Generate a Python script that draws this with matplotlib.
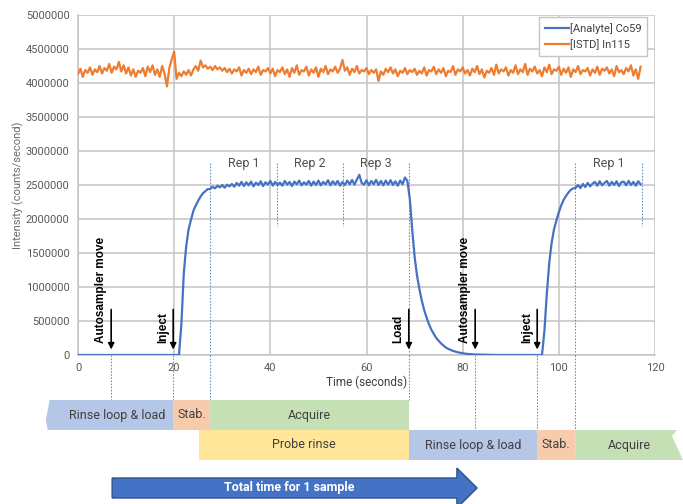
import matplotlib.pyplot as plt
import matplotlib.patches as mpatches
import numpy as np
from matplotlib.ticker import FuncFormatter

plt.rcParams["font.family"] = ["Roboto", "DejaVu Sans"]

# [ISTD] In115, one reading every 0.5 s from t = 0 (counts/s, thousands)
istd_kcps = [
    4130, 4210, 4090, 4190, 4150, 4230, 4120, 4200, 4160, 4250, 4140, 4220, 4180, 4280, 4150, 4240, 4200, 4310, 4170, 4260,
    4140, 4230, 4110, 4200, 4090, 4180, 4150, 4220, 4100, 4240, 4160, 4260, 4120, 4200, 4090, 4250, 4140, 3950, 4220, 4350,
    4460, 4060, 4150, 4100, 4170, 4120, 4190, 4110, 4200, 4250, 4180, 4330, 4230, 4260, 4210, 4240, 4190, 4250, 4200, 4230,
    4180, 4220, 4160, 4210, 4140, 4200, 4170, 4230, 4110, 4190, 4150, 4210, 4130, 4200, 4160, 4240, 4120, 4190, 4170, 4220,
    4140, 4210, 4100, 4190, 4160, 4230, 4130, 4200, 4090, 4220, 4150, 4260, 4120, 4190, 4170, 4240, 4110, 4200, 4150, 4230,
    4090, 4210, 4160, 4250, 4130, 4200, 4170, 4240, 4150, 4210, 4340, 4180, 4230, 4120, 4210, 4160, 4250, 4140, 4190, 4170,
    4220, 4130, 4190, 4150, 4200, 4030, 4170, 4120, 4210, 4160, 4230, 4140, 4200, 4100, 4180, 4150, 4220, 4130, 4190, 4160,
    4210, 4120, 4180, 4140, 4230, 4110, 4190, 4170, 4240, 4130, 4200, 4150, 4220, 4100, 4180, 4160, 4250, 4120, 4200, 4170,
    4230, 4140, 4190, 4110, 4210, 4160, 4250, 4130, 4200, 4080, 4180, 4150, 4220, 4120, 4270, 4140, 4200, 4170, 4230, 4110,
    4190, 4150, 4260, 4130, 4200, 4160, 4280, 4120, 4210, 4170, 4240, 4140, 4190, 4100, 4230, 4160, 4270, 4130, 4200, 4180,
    4240, 4120, 4210, 4150, 4230, 4090, 4200, 4160, 4250, 4130, 4190, 4170, 4220, 4110, 4200, 4150, 4240, 4120, 4210, 4180,
    4230, 4140, 4200, 4100, 4250, 4160, 4190, 4130, 4220, 4170, 4260, 4110, 4200, 4060, 4240,
]

# [Analyte] Co59: baseline is 0 outside the two sample runs; each run read every 0.5 s
run1_start = 21.0
run1_kcps = [
    0, 450, 1200, 1600, 1850, 1990, 2120, 2200, 2270, 2330, 2380, 2410, 2440,
    2440, 2475, 2450, 2490, 2465, 2500, 2460, 2505, 2480, 2515,
    2475, 2530, 2490, 2545, 2485, 2540, 2495, 2550, 2480, 2535,
    2500, 2555, 2485, 2540, 2505, 2560, 2490, 2545, 2500, 2535,
    2490, 2560, 2505, 2545, 2485, 2550, 2510, 2565, 2495, 2540,
    2505, 2560, 2490, 2550, 2500, 2565, 2495, 2545, 2510, 2570,
    2495, 2555, 2505, 2560, 2490, 2545, 2500, 2565, 2510, 2575,
    2505, 2580, 2650, 2530, 2505, 2570, 2495, 2560, 2510, 2575,
    2500, 2560, 2495, 2565, 2505, 2570, 2500, 2555, 2490, 2565,
    2510, 2610, 2560,
    2300, 1850, 1450, 1170, 970, 800, 660, 550, 450, 370, 310, 250, 210, 170, 140, 110,
    90, 75, 60, 50, 40, 32, 26, 20, 16, 13, 10, 8, 7, 6, 5, 4, 3, 2, 1, 1, 0,
]
run2_start = 96.5
run2_kcps = [
    0, 350, 900, 1350, 1650, 1850, 1980, 2100, 2200, 2280, 2340, 2390, 2430, 2450,
    2460, 2500, 2455, 2515, 2470, 2530, 2480, 2520, 2545, 2490, 2555, 2495, 2530, 2560,
    2490, 2545, 2500, 2555, 2485, 2540, 2550, 2495, 2560, 2500, 2545, 2490, 2555, 2510,
]

event_labels = ["Autosampler move", "Inject", "Load", "Autosampler move", "Inject"]
event_times = [6.9, 19.8, 68.8, 82.6, 95.5]

rep_labels = ["Rep 1", "Rep 2", "Rep 3", "Rep 1"]
rep_bounds = [(27.5, 41.4), (41.4, 55.2), (55.2, 68.8), (103.4, 117.2)]

row1_labels = ["Rinse loop & load", "Stab.", "Acquire"]
row1_edges = [-6.7, 19.8, 27.5, 68.8]
row2_labels = ["Probe rinse", "Rinse loop & load", "Stab.", "Acquire"]
row2_edges = [25.2, 68.8, 95.5, 103.4, 125.8]

PHASE_COLORS = {
    "Rinse loop & load": "#b4c7e7",
    "Stab.": "#f8cbad",
    "Acquire": "#c5e0b4",
    "Probe rinse": "#ffe699",
}
BLUE = "#4472c4"
ORANGE = "#ed7d31"
GUIDE = dict(color="#6a88c2", lw=0.75, ls=(0, (1.5, 1.5)), clip_on=False, zorder=1)

istd_t = np.arange(len(istd_kcps)) * 0.5
analyte_t = np.concatenate([[0.0],
                            run1_start + np.arange(len(run1_kcps)) * 0.5,
                            run2_start + np.arange(len(run2_kcps)) * 0.5])
analyte = np.concatenate([[0.0], run1_kcps, run2_kcps]) * 1000
istd = np.asarray(istd_kcps) * 1000

fig = plt.figure(figsize=(6.83, 5.04), dpi=100)
ax = fig.add_axes([78 / 683, 1 - 355 / 504, 577 / 683, 340 / 504])
ax2 = fig.add_axes([78 / 683, 0, 577 / 683, 149 / 504])

ax.plot(analyte_t, analyte, color=BLUE, lw=1.6, label="[Analyte] Co59", zorder=4)
ax.plot(istd_t, istd, color=ORANGE, lw=1.6, label="[ISTD] In115", zorder=4)

ax.set_xlim(0, 120)
ax.set_ylim(0, 5000000)
ax.set_xticks(np.arange(0, 121, 20))
ax.set_yticks(np.arange(0, 5000001, 500000))
ax.yaxis.set_major_formatter(FuncFormatter(lambda v, _: f"{v:.0f}"))
ax.grid(True, color="#c4c4c4", lw=1.1)
ax.set_axisbelow(True)
for side in ["top", "right"]:
    ax.spines[side].set_visible(False)
for side in ["left", "bottom"]:
    ax.spines[side].set_color("#c4c4c4")
    ax.spines[side].set_linewidth(1.1)
ax.tick_params(length=0, labelsize=8, colors="#595959", pad=6)
ax.set_ylabel("Intensity (counts/second)", fontsize=8, color="#6a6a6a")
ax.yaxis.set_label_coords(-0.093, 0.5)
ax.set_xlabel("Time (seconds)", fontsize=8.5, color="#404040")
ax.xaxis.set_label_coords(0.5, -0.062)

ax.legend(loc="upper right", bbox_to_anchor=(0.9965, 1.009), fontsize=8, fancybox=False,
          framealpha=1, edgecolor="#c4c4c4", labelcolor="#404040", borderpad=0.5,
          handlelength=2.2, handletextpad=0.1)

# replicate marks and phase guides inside the chart
rep_top = 2820000
for (a, b), lab in zip(rep_bounds, rep_labels):
    ax.text((a + b) / 2, rep_top, lab, ha="center", va="center", fontsize=9, color="#505050")
for t in [41.4, 55.2, 117.2]:
    ax.plot([t, t], [rep_top, 1900000], **GUIDE)
for t in [27.5, 68.8, 103.4]:
    ax.plot([t, t], [rep_top, 0], **GUIDE)

# event arrows
for t, lab in zip(event_times, event_labels):
    ax.annotate("", xy=(t, 40000), xytext=(t, 710000),
                arrowprops=dict(arrowstyle="-|>", color="black", lw=1.2, mutation_scale=9))
    ax.text(t - 2.1, 170000, lab, rotation=90, ha="center", va="bottom", fontsize=8.5,
            fontweight="bold", family=["Liberation Sans", "DejaVu Sans"])

# timeline rows below the chart
ax2.set_xlim(0, 120)
ax2.set_ylim(0, 149)
ax2.axis("off")
row1_y = (74, 104)
row2_y = (44, 74)


def draw_row(edges, labels, y0, y1, notch_left=False, notch_right=False):
    for i, lab in enumerate(labels):
        a, b = edges[i], edges[i + 1]
        h = y1 - y0
        xc = (a + b) / 2
        if notch_left and i == 0:
            pts = [(a + 0.8, y1), (a, y0 + h / 3), (a + 0.4, y0), (b, y0), (b, y1)]
            xc += 1.5
        elif notch_right and i == len(labels) - 1:
            pts = [(a, y1), (b - 1.2, y1), (b - 2.3, y1 - 0.2 * h), (b, y0), (a, y0)]
        else:
            pts = [(a, y0), (b, y0), (b, y1), (a, y1)]
        ax2.add_patch(mpatches.Polygon(pts, closed=True, facecolor=PHASE_COLORS[lab],
                                       edgecolor="none", clip_on=False, zorder=2))
        ax2.text(xc, (y0 + y1) / 2, lab, ha="center", va="center",
                 fontsize=9, color="#404040", zorder=3)


draw_row(row1_edges, row1_labels, *row1_y, notch_left=True)
draw_row(row2_edges, row2_labels, *row2_y, notch_right=True)

for t in [6.9, 19.8, 27.5, 68.8]:
    ax2.plot([t, t], [149, row1_y[1]], **GUIDE)
for t in [82.6, 95.5, 103.4]:
    ax2.plot([t, t], [149, row2_y[1]], **GUIDE)

arrow = mpatches.FancyArrow(7.1, 16, 83.0 - 7.1, 0, width=20, head_width=40, head_length=4.2,
                            length_includes_head=True, facecolor=BLUE, edgecolor="#2f528f",
                            lw=1, clip_on=False, zorder=2)
ax2.add_patch(arrow)
ax2.text(44.0, 16, "Total time for 1 sample", ha="center", va="center", fontsize=9,
         fontweight="bold", color="white", zorder=3)

fig.savefig("out.png", dpi=100, facecolor="white")
